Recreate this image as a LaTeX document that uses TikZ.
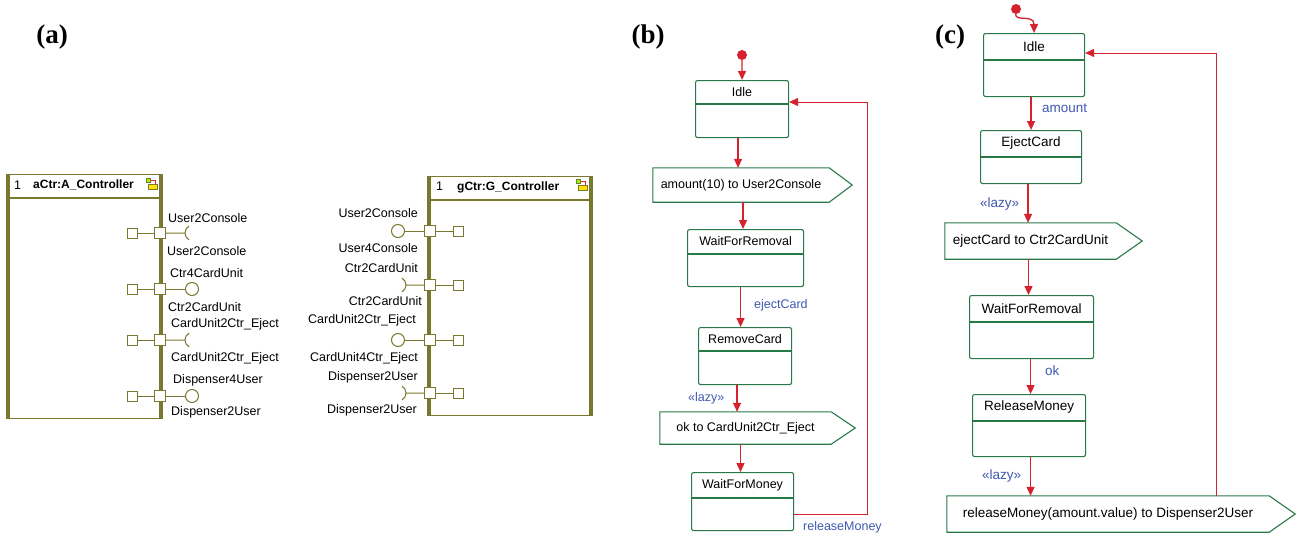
\documentclass[tikz,border=0pt]{standalone}
\usepackage{fontspec}
\setmainfont{Liberation Sans}
\newfontfamily\panelfont{Liberation Serif}
\usetikzlibrary{arrows.meta}

\definecolor{olivec}{RGB}{122,120,46}
\definecolor{stgreen}{RGB}{40,120,72}
\definecolor{trred}{RGB}{214,34,46}
\definecolor{lblblue}{RGB}{62,88,176}

\tikzset{
  compbox/.style={draw=olivec, line width=1.2pt, fill=white, inner sep=0pt, anchor=north west},
  sidebar/.style={olivec, line width=4pt},
  port/.style={draw=olivec, fill=white, line width=1pt, minimum size=11pt, inner sep=0pt},
  innerport/.style={draw=olivec, fill=white, line width=1pt, minimum size=10pt, inner sep=0pt},
  portline/.style={olivec, line width=1pt},
  lolli/.style={circle, draw=olivec, fill=white, line width=1pt, minimum size=13pt, inner sep=0pt},
  plabel/.style={inner sep=0pt},
  stbox/.style={draw=stgreen, line width=1.1pt, rounded corners=2pt, fill=white, inner sep=0pt, anchor=north west},
  stline/.style={stgreen, line width=1.1pt},
  stname/.style={inner sep=0pt},
  sigbox/.style={inner sep=0pt},
  sigline/.style={stgreen, line width=1.1pt},
  trans/.style={trred, line width=1.3pt, -{Triangle[length=9pt,width=8pt]}},
  back/.style={trred, line width=1pt, -{Triangle[length=9pt,width=8pt]}},
  trlabel/.style={lblblue, inner sep=0pt, anchor=west},
  initdot/.style={circle, fill=trred, minimum size=10pt, inner sep=0pt},
  panel/.style={font=\panelfont\bfseries\fontsize{27}{30}\selectfont, inner sep=0pt}
}

\begin{document}
\begin{tikzpicture}[x=1pt, y=-1pt, font=\fontsize{12.5}{15}\selectfont]
  \useasboundingbox (0,0) rectangle (1303,538);

  % panel titles
  \node[panel] (labA) at (52,37) {(a)};
  \node[panel] (labB) at (648,37) {(b)};
  \node[panel] (labC) at (950,37) {(c)};

  % ---------- (a) aCtr
  \node[compbox, minimum width=152pt, minimum height=244pt] (aCtr) at (8,174) {};
  \draw[sidebar] (aCtr.north west) -- (aCtr.south west);
  \draw[sidebar] (aCtr.north east) -- (aCtr.south east);
  \draw[portline, line width=1.2pt] ([yshift=-24pt]aCtr.north west) -- ([yshift=-24pt]aCtr.north east);
  \node[anchor=west, inner sep=0pt] (aCtrNum) at (14,185) {1};
  \node[anchor=west, inner sep=0pt, font=\bfseries\fontsize{12}{14}\selectfont] (aCtrName) at (33,185) {aCtr:A\_Controller};

  % ---------- (a) gCtr
  \node[compbox, minimum width=161pt, minimum height=239pt] (gCtr) at (429,176) {};
  \draw[sidebar] (gCtr.north west) -- (gCtr.south west);
  \draw[sidebar] (gCtr.north east) -- (gCtr.south east);
  \draw[portline, line width=1.2pt] ([yshift=-24pt]gCtr.north west) -- ([yshift=-24pt]gCtr.north east);
  \node[anchor=west, inner sep=0pt] (gCtrNum) at (436,186) {1};
  \node[anchor=west, inner sep=0pt, font=\bfseries\fontsize{12}{14}\selectfont] (gCtrName) at (457,187) {gCtr:G\_Controller};

  % class icons
  \foreach \ix/\iy in {0/0, 430/1} {
    \begin{scope}[shift={(\ix,\iy)}]
      \draw[trred, line width=0.9pt] (150,180) -- (155,180) -- (155,184);
      \draw[olivec, fill=green!45!yellow, line width=0.7pt] (146,178) rectangle (150,182);
      \draw[olivec, fill=yellow!85!orange, line width=0.7pt] (148,184) rectangle (157,189);
    \end{scope}
  }

  % ports of aCtr
  \node[innerport] (aI1) at (132,233) {};
  \node[port] (aP1) at (160,233) {};
  \node[innerport] (aI2) at (132,289) {};
  \node[port] (aP2) at (160,289) {};
  \node[innerport] (aI3) at (132,340) {};
  \node[port] (aP3) at (160,340) {};
  \node[innerport] (aI4) at (132,396) {};
  \node[port] (aP4) at (160,396) {};
  \coordinate (aS1) at (185,233);
  \coordinate (aS3) at (185,340);
  \node[lolli] (aL2) at (192,289) {};
  \node[lolli] (aL4) at (192,396) {};
  \draw[portline] (aI1) -- (aP1);
  \draw[portline] (aI2) -- (aP2);
  \draw[portline] (aI3) -- (aP3);
  \draw[portline] (aI4) -- (aP4);
  \draw[portline] (aP1) -- (aS1) arc[start angle=180, end angle=120, radius=8pt]
                  (aS1) arc[start angle=180, end angle=240, radius=8pt];
  \draw[portline] (aP2) -- (aL2);
  \draw[portline] (aP3) -- (aS3) arc[start angle=180, end angle=120, radius=8pt]
                  (aS3) arc[start angle=180, end angle=240, radius=8pt];
  \draw[portline] (aP4) -- (aL4);

  \node[plabel, anchor=west] (aT1) at (168,218) {User2Console};
  \node[plabel, anchor=west] (aB1) at (167,251) {User2Console};
  \node[plabel, anchor=west] (aT2) at (170,273) {Ctr4CardUnit};
  \node[plabel, anchor=west] (aB2) at (168,307) {Ctr2CardUnit};
  \node[plabel, anchor=west] (aT3) at (171,324) {CardUnit2Ctr\_Eject};
  \node[plabel, anchor=west] (aB3) at (171,358) {CardUnit2Ctr\_Eject};
  \node[plabel, anchor=west] (aT4) at (173,380) {Dispenser4User};
  \node[plabel, anchor=west] (aB4) at (171,412) {Dispenser2User};

  % ports of gCtr
  \node[innerport] (gI1) at (458,231) {};
  \node[port] (gP1) at (430,231) {};
  \node[innerport] (gI2) at (458,285) {};
  \node[port] (gP2) at (430,285) {};
  \node[innerport] (gI3) at (458,340) {};
  \node[port] (gP3) at (430,340) {};
  \node[innerport] (gI4) at (458,393) {};
  \node[port] (gP4) at (430,393) {};
  \node[lolli] (gL1) at (398,231) {};
  \node[lolli] (gL3) at (398,340) {};
  \coordinate (gS2) at (406,285);
  \coordinate (gS4) at (406,393);
  \draw[portline] (gI1) -- (gP1);
  \draw[portline] (gI2) -- (gP2);
  \draw[portline] (gI3) -- (gP3);
  \draw[portline] (gI4) -- (gP4);
  \draw[portline] (gP1) -- (gL1);
  \draw[portline] (gP2) -- (gS2) arc[start angle=0, end angle=60, radius=8pt]
                  (gS2) arc[start angle=0, end angle=-60, radius=8pt];
  \draw[portline] (gP3) -- (gL3);
  \draw[portline] (gP4) -- (gS4) arc[start angle=0, end angle=60, radius=8pt]
                  (gS4) arc[start angle=0, end angle=-60, radius=8pt];

  \node[plabel, anchor=east] (gT1) at (418,213) {User2Console};
  \node[plabel, anchor=east] (gB1) at (418,248) {User4Console};
  \node[plabel, anchor=east] (gT2) at (418,268) {Ctr2CardUnit};
  \node[plabel, anchor=east] (gB2) at (422,301) {Ctr2CardUnit};
  \node[plabel, anchor=east] (gT3) at (416,320) {CardUnit2Ctr\_Eject};
  \node[plabel, anchor=east] (gB3) at (418,358) {CardUnit4Ctr\_Eject};
  \node[plabel, anchor=east] (gT4) at (418,377) {Dispenser2User};
  \node[plabel, anchor=east] (gB4) at (417,410) {Dispenser2User};

  % ---------- (b)
  \node[initdot] (initB) at (742,55) {};

  \node[stbox, minimum width=93pt, minimum height=57pt] (idleB) at (695,80) {};
  \draw[stline] ([yshift=-24pt]idleB.north west) -- ([yshift=-24pt]idleB.north east);
  \node[stname] (idleBt) at ([yshift=-12pt]idleB.north) {Idle};

  \node[sigbox, minimum width=176pt, minimum height=34pt] (sigB1) at (741,185) {amount(10) to User2Console};
  \draw[sigline] (sigB1.north west) -- (sigB1.north east) -- ([xshift=23pt]sigB1.east)
    -- (sigB1.south east) -- (sigB1.south west) -- cycle;

  \node[stbox, minimum width=116pt, minimum height=57pt] (wfrB) at (687,229) {};
  \draw[stline] ([yshift=-25pt]wfrB.north west) -- ([yshift=-25pt]wfrB.north east);
  \node[stname] (wfrBt) at ([yshift=-12.5pt]wfrB.north) {WaitForRemoval};

  \node[stbox, minimum width=93pt, minimum height=57pt] (rcB) at (698,327) {};
  \draw[stline] ([yshift=-24pt]rcB.north west) -- ([yshift=-24pt]rcB.north east);
  \node[stname] (rcBt) at ([yshift=-12pt]rcB.north) {RemoveCard};

  \node[sigbox, minimum width=171pt, minimum height=32pt] (sigB2) at (745.5,428) {ok to CardUnit2Ctr\_Eject};
  \draw[sigline] (sigB2.north west) -- (sigB2.north east) -- ([xshift=24pt]sigB2.east)
    -- (sigB2.south east) -- (sigB2.south west) -- cycle;

  \node[stbox, minimum width=102pt, minimum height=58pt] (wmB) at (691,472) {};
  \draw[stline] ([yshift=-26pt]wmB.north west) -- ([yshift=-26pt]wmB.north east);
  \node[stname] (wmBt) at ([yshift=-13pt]wmB.north) {WaitForMoney};

  \draw[trans] (initB) -- (idleB.north);
  \draw[trans] ([xshift=-4pt]idleB.south) -- ([xshift=-4pt]idleB.south |- sigB1.north);
  \draw[trans] ([xshift=2pt]sigB1.south) -- ([xshift=2pt]sigB1.south |- wfrB.north);
  \draw[trans] ([xshift=-5pt]wfrB.south) -- ([xshift=-5pt]wfrB.south |- rcB.north);
  \draw[trans] ([xshift=-8pt]rcB.south) -- ([xshift=-8pt]rcB.south |- sigB2.north);
  \draw[trans] ([xshift=-5pt]sigB2.south) -- ([xshift=-5pt]sigB2.south |- wmB.north);
  \draw[back] ([yshift=-42pt]wmB.north east) -- ++(73,0) |- ([yshift=-22pt]idleB.north east);

  \node[trlabel] (lbEject) at (754,305) {ejectCard};
  \node[trlabel] (lbLazyB) at (688,398) {«lazy»};
  \node[trlabel] (lbRelease) at (803,527) {releaseMoney};

  % ---------- (c)
  \begin{scope}[font=\fontsize{13.5}{16}\selectfont]
  \node[initdot] (initC) at (1016,9) {};

  \node[stbox, minimum width=101pt, minimum height=63pt] (idleC) at (983,33) {};
  \draw[stline] ([yshift=-27pt]idleC.north west) -- ([yshift=-27pt]idleC.north east);
  \node[stname] (idleCt) at ([yshift=-13.5pt]idleC.north) {Idle};

  \node[stbox, minimum width=101pt, minimum height=53pt] (ejC) at (980,130) {};
  \draw[stline] ([yshift=-27pt]ejC.north west) -- ([yshift=-27pt]ejC.north east);
  \node[stname] (ejCt) at ([yshift=-13.5pt]ejC.north) {EjectCard};

  \node[sigbox, minimum width=171pt, minimum height=36pt] (sigC1) at (1030.5,241) {ejectCard to Ctr2CardUnit};
  \draw[sigline] (sigC1.north west) -- (sigC1.north east) -- ([xshift=26pt]sigC1.east)
    -- (sigC1.south east) -- (sigC1.south west) -- cycle;

  \node[stbox, minimum width=124pt, minimum height=63pt] (wfrC) at (969,295) {};
  \draw[stline] ([yshift=-27pt]wfrC.north west) -- ([yshift=-27pt]wfrC.north east);
  \node[stname] (wfrCt) at ([yshift=-13.5pt]wfrC.north) {WaitForRemoval};

  \node[stbox, minimum width=113pt, minimum height=62pt] (rmC) at (972,394) {};
  \draw[stline] ([yshift=-27pt]rmC.north west) -- ([yshift=-27pt]rmC.north east);
  \node[stname] (rmCt) at ([yshift=-13.5pt]rmC.north) {ReleaseMoney};

  \node[sigbox, minimum width=322pt, minimum height=36pt] (sigC2) at (1108,514) {releaseMoney(amount.value) to Dispenser2User};
  \draw[sigline] (sigC2.north west) -- (sigC2.north east) -- ([xshift=26pt]sigC2.east)
    -- (sigC2.south east) -- (sigC2.south west) -- cycle;

  \draw[trans] (initC) .. controls (1015,22) and (1034,14) .. (idleC.north);
  \draw[trans] ([xshift=-3pt]idleC.south) -- ([xshift=-3pt]idleC.south |- ejC.north);
  \draw[trans] ([xshift=-3pt]ejC.south) -- ([xshift=-3pt]ejC.south |- sigC1.north);
  \draw[trans] ([xshift=-2pt]sigC1.south) -- ([xshift=-2pt]sigC1.south |- wfrC.north);
  \draw[trans] ([xshift=-1pt]wfrC.south) -- ([xshift=-1pt]wfrC.south |- rmC.north);
  \draw[trans] ([xshift=1.5pt]rmC.south) -- ([xshift=1.5pt]rmC.south |- sigC2.north);
  \draw[back] ([xshift=108pt]sigC2.north) |- ([yshift=-20pt]idleC.north east);

  \node[trlabel] (lbAmount) at (1042,108) {amount};
  \node[trlabel] (lbLazyC1) at (980,204) {«lazy»};
  \node[trlabel] (lbOk) at (1045,371) {ok};
  \node[trlabel] (lbLazyC2) at (982,476) {«lazy»};
  \end{scope}
\end{tikzpicture}
\end{document}
